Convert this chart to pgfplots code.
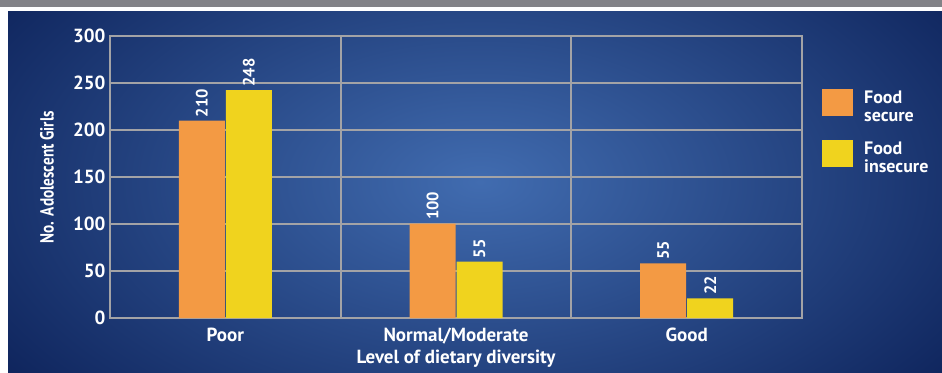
\documentclass[border=0pt]{standalone}
\usepackage{graphicx}
\usepackage{pgfplots}
\pgfplotsset{compat=1.18}
\usepackage{fontspec}
\setmainfont{PT Sans}
\definecolor{bgdark}{HTML}{0A1E55}
\definecolor{bglight}{HTML}{416CB0}
\definecolor{topgray}{HTML}{828287}
\definecolor{gridgray}{HTML}{A3A3A6}
\definecolor{barorange}{HTML}{F39A44}
\definecolor{baryellow}{HTML}{F0D31E}
\begin{document}
\begin{tikzpicture}
% background
\fill[white] (0pt,0pt) rectangle (942pt,372pt);
\fill[topgray] (0pt,365pt) rectangle (942pt,372pt);
\begin{scope}
\clip (8pt,0pt) rectangle (942pt,360pt);
\fill[bgdark] (8pt,0pt) rectangle (942pt,360pt);
\shade[inner color=bglight, outer color=bgdark] (480pt,190pt) ellipse (640pt and 360pt);
\end{scope}
\begin{axis}[
  at={(110pt,54pt)}, anchor=south west,
  scale only axis, width=692pt, height=282pt,
  ybar=1pt, bar width=46pt,
  xmin=-0.5, xmax=2.5, ymin=0, ymax=300,
  enlargelimits=false,
  xtick={0,1,2}, xticklabels={Poor,Normal/Moderate,Good},
  ytick={0,50,100,150,200,250,300},
  minor xtick={0.5,1.5},
  xminorgrids=true, ymajorgrids=true,
  major tick length=0pt, minor tick length=0pt,
  grid style={draw=gridgray, line width=1.8pt},
  minor grid style={draw=gridgray, line width=1.8pt},
  axis line style={draw=gridgray, line width=1.8pt},
  /pgf/number format/assume math mode=true,
  tick label style={text=white, font=\fontsize{19}{21}\selectfont\bfseries},
  xticklabel style={yshift=-6pt},
  yticklabel style={xshift=-1pt},
  xlabel={Level of dietary diversity},
  ylabel={\scalebox{0.8}[1]{\bfseries No. Adolescent Girls}},
  xlabel style={text=white, font=\fontsize{19}{21}\selectfont\bfseries, at={(axis description cs:0.5,0)}, anchor=center, yshift=-41pt},
  ylabel style={text=white, font=\fontsize{19}{21}\selectfont, at={(axis description cs:-0.091,0.5)}, anchor=center},
  nodes near coords,
  point meta=explicit symbolic,
  every node near coord/.append style={text=white, font=\fontsize{16.5}{18}\selectfont\bfseries, rotate=90, anchor=west, xshift=0pt},
  legend style={at={(axis description cs:1.0245,0.82)}, anchor=north west, draw=none, fill=none,
    nodes={text=white, font=\fontsize{18}{18}\selectfont\bfseries, inner sep=0pt, anchor=west},
    row sep=24pt, column sep=11pt},
  legend cell align=left,
  legend image code/.code={\fill[#1] (0pt,-13.5pt) rectangle (31pt,13.5pt);},
]
\addplot[fill=barorange, draw=none] coordinates {(0,210) [210] (1,100.5) [100] (2,58) [55]};
\addplot[fill=baryellow, draw=none] coordinates {(0,242.5) [248] (1,60) [55] (2,21) [22]};
\addlegendentry{\begin{tabular}{@{}l@{}}Food\\secure\end{tabular}}
\addlegendentry{\begin{tabular}{@{}l@{}}Food\\insecure\end{tabular}}
\end{axis}
\pgfresetboundingbox
\useasboundingbox (0pt,0pt) rectangle (942pt,372pt);
\end{tikzpicture}
\end{document}
